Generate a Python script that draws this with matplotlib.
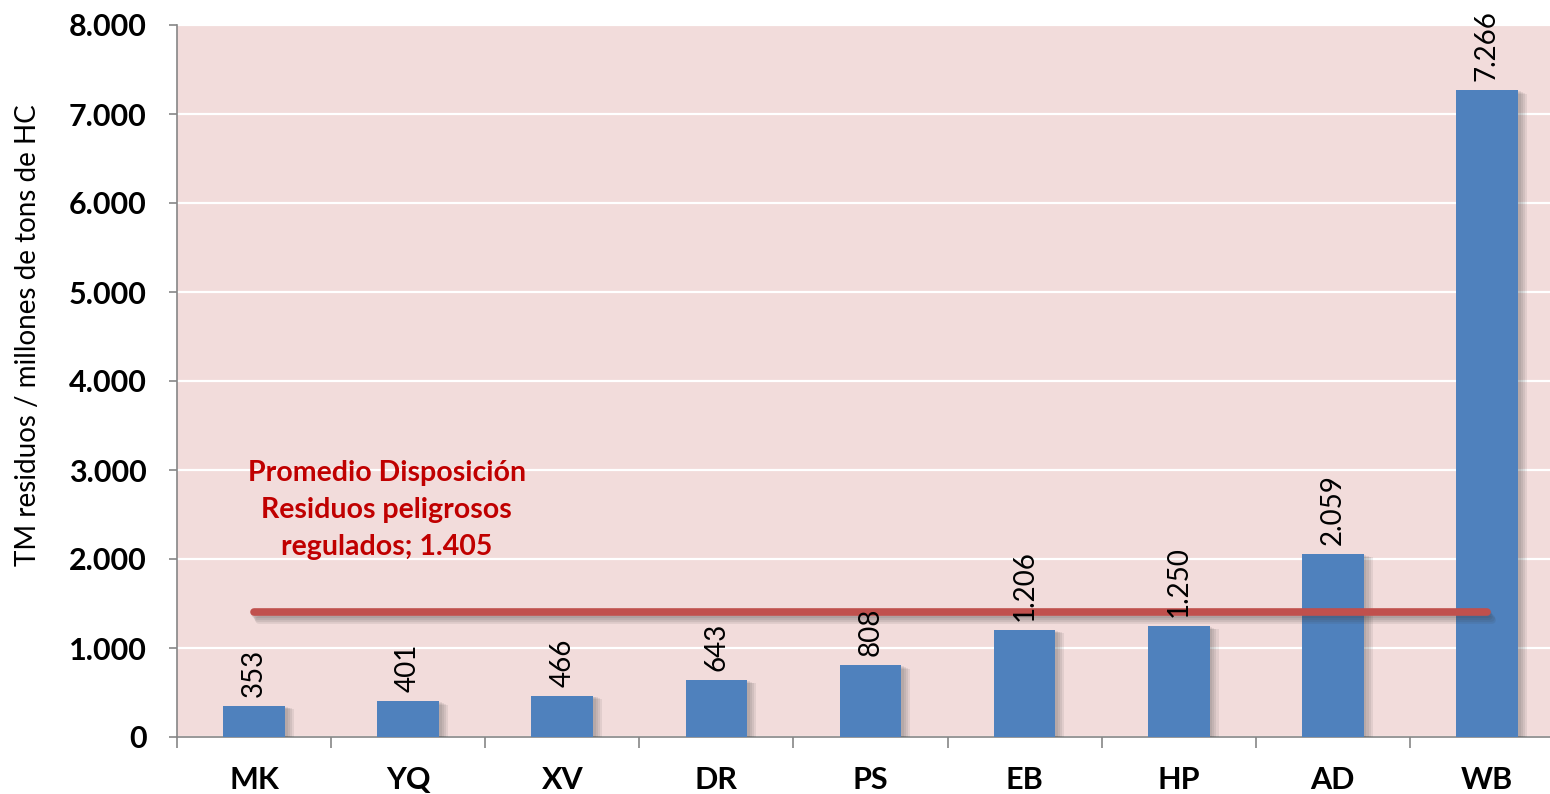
import matplotlib
matplotlib.use("Agg")
import matplotlib.pyplot as plt
import matplotlib.patheffects as pe
from matplotlib.ticker import FuncFormatter, FixedLocator

# datos
categorias = ['MK', 'YQ', 'XV', 'DR', 'PS', 'EB', 'HP', 'AD', 'WB']
valores = [353, 401, 466, 643, 808, 1206, 1250, 2059, 7266]
promedio = 1405
texto_promedio = 'Promedio Disposición\nResiduos peligrosos\nregulados; 1.405'
titulo_y = 'TM residuos / millones de tons de HC'

def miles(v, pos=None):
    return '{:,.0f}'.format(v).replace(',', '.')

plt.rcParams['font.family'] = ['Lato', 'DejaVu Sans']

fig = plt.figure(figsize=(15.5, 7.94), dpi=100)
ax = fig.add_axes([177 / 1550, 57 / 794, 1387 / 1550, 712 / 794])
ax.set_facecolor('#F2DCDB')

# sombra suave: varias capas con poca opacidad
def sombra_barra():
    capas = [pe.SimplePatchShadow(offset=(d, -d * 0.4), shadow_rgbFace='#3a3a3a', alpha=0.09)
             for d in (2, 3.5, 5, 6.5)]
    return capas + [pe.Normal()]

def sombra_linea():
    capas = [pe.SimpleLineShadow(offset=(d * 0.6, -d), shadow_color='#3a3a3a', alpha=0.11)
             for d in (1.5, 3, 4.5, 6)]
    return capas + [pe.Normal()]

x = list(range(len(categorias)))
barras = ax.bar(x, valores, width=0.40, color='#4F81BD', zorder=3)
for b in barras:
    b.set_path_effects(sombra_barra())

for i, v in enumerate(valores):
    ax.text(i, v + 100, miles(v), rotation=90, ha='center', va='bottom',
            fontsize=20, color='black', zorder=5)

ax.plot([0, len(categorias) - 1], [promedio, promedio], color='#C0504D', lw=5.5,
        solid_capstyle='round', zorder=4, path_effects=sombra_linea())

ax.text(0.86, 2555, texto_promedio, ha='center', va='center', multialignment='center',
        fontsize=20.5, fontweight='bold', color='#C00000', linespacing=1.52, zorder=5)

ax.set_xlim(-0.5, len(categorias) - 0.5)
ax.set_ylim(0, 8000)
ax.set_yticks(range(0, 8001, 1000))
ax.yaxis.set_major_formatter(FuncFormatter(miles))
ax.grid(axis='y', color='white', lw=1.6, zorder=1)
ax.set_axisbelow(True)

ax.set_xticks(x)
ax.set_xticklabels(categorias)
ax.xaxis.set_minor_locator(FixedLocator([i - 0.5 for i in range(len(categorias) + 1)]))
ax.tick_params(axis='x', which='major', length=0, pad=21, labelsize=22)
ax.tick_params(axis='x', which='minor', length=8, color='#868686', width=1.2)
ax.tick_params(axis='y', length=6, color='#868686', width=1.2, pad=16, labelsize=22)
for lab in ax.get_xticklabels() + ax.get_yticklabels():
    lab.set_fontweight('bold')

for s in ['top', 'right']:
    ax.spines[s].set_visible(False)
for s in ['left', 'bottom']:
    ax.spines[s].set_color('#868686')
    ax.spines[s].set_linewidth(1.2)

fig.text(28 / 1550, 1 - 335 / 794, titulo_y, rotation=90, ha='center', va='center',
         fontsize=20)

fig.savefig('out.png', dpi=100)
